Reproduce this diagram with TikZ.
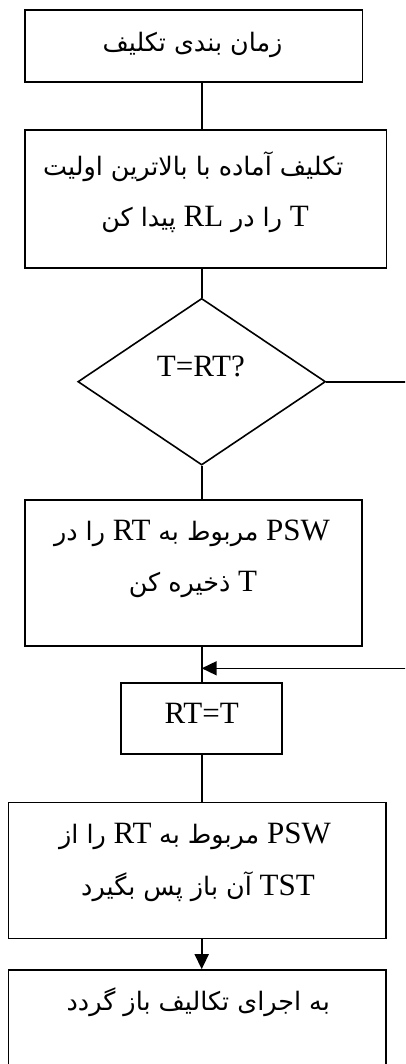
\documentclass[tikz,border=0pt]{standalone}
\usepackage{fontspec}
\setmainfont{Liberation Serif}
\newfontfamily\arabicfont[Script=Arabic,Scale=0.82]{DejaVu Sans}
\TeXXeTstate=1
\usetikzlibrary{shapes.geometric,arrows.meta}
\newcommand{\fa}[1]{{\arabicfont #1}}
\tikzset{
  box/.style={draw, line width=1.6pt, rectangle, inner sep=0pt},
  dia/.style={draw, line width=1.6pt, diamond, inner sep=0pt},
  txt/.style={anchor=base, inner sep=0pt, font=\fontsize{31}{37}\selectfont},
  conn/.style={line width=1.6pt},
  arr/.style={line width=1.6pt, -{Triangle[length=15pt,width=14pt]}}
}
\begin{document}
\begin{tikzpicture}[x=1pt,y=-1pt]
\useasboundingbox (0,0) rectangle (405,1064);
\clip (0,0) rectangle (405,1064);
\coordinate (cx) at (201.7,0);
% boxes
\node[box, minimum width=337.7pt, minimum height=72pt] (b1) at (193.8,46) {};
\node[box, minimum width=361.7pt, minimum height=138pt] (b2) at (205.8,199) {};
\node[dia, minimum width=247.7pt, minimum height=166.7pt] (d) at (201.7,381.7) {};
\node[box, minimum width=336.7pt, minimum height=145.7pt] (b3) at (193.35,572.85) {};
\node[box, minimum width=160.7pt, minimum height=71.3pt] (b4) at (201.35,718.35) {};
\node[box, minimum width=377.7pt, minimum height=136pt] (b5) at (197.15,870.3) {};
\node[box, minimum width=377.7pt, minimum height=110pt] (b6) at (197.15,1025) {};
% texts
\node[txt] (t1) at (192.5,52) {\fa{\beginR زمان بندی تکلیف\endR}};
\node[txt] (t2a) at (193.3,176) {\fa{\beginR تکلیف آماده با بالاترین اولیت\endR}};
\node[txt] (t2b) at (205,226.7) {\beginR T \fa{را در} RL \fa{پیدا کن}\endR};
\node[txt] (td) at (200.8,376.7) {T=RT?};
\node[txt] (t3a) at (192,540) {\beginR PSW \fa{مربوط به} RT \fa{را در}\endR};
\node[txt] (t3b) at (193,591.7) {\beginR T \fa{ذخیره کن}\endR};
\node[txt] (t4) at (201.7,723.3) {RT=T};
\node[txt] (t5a) at (195,843.3) {\beginR PSW \fa{مربوط به} RT \fa{را از}\endR};
\node[txt] (t5b) at (198,895) {\beginR TST \fa{آن باز پس بگیرد}\endR};
\node[txt] (t6) at (198.3,1010) {\fa{\beginR به اجرای تکالیف باز گردد\endR}};
% connectors
\coordinate (j) at (201.7,668.3);
\coordinate (r1) at (412,381.7);
\coordinate (r2) at (412,668.3);
\draw[conn] (b1.south -| cx) -- (b2.north -| cx);
\draw[conn] (b2.south -| cx) -- (d.north);
\draw[conn] (d.south) -- (b3.north -| cx);
\draw[conn] (b3.south -| cx) -- (b4.north -| cx);
\draw[conn] (d.east) -- (r1) -- (r2);
\draw[arr] (r2) -- (j);
\draw[conn] (b4.south -| cx) -- (b5.north -| cx);
\draw[arr] (b5.south -| cx) -- (b6.north -| cx);
\end{tikzpicture}
\end{document}
